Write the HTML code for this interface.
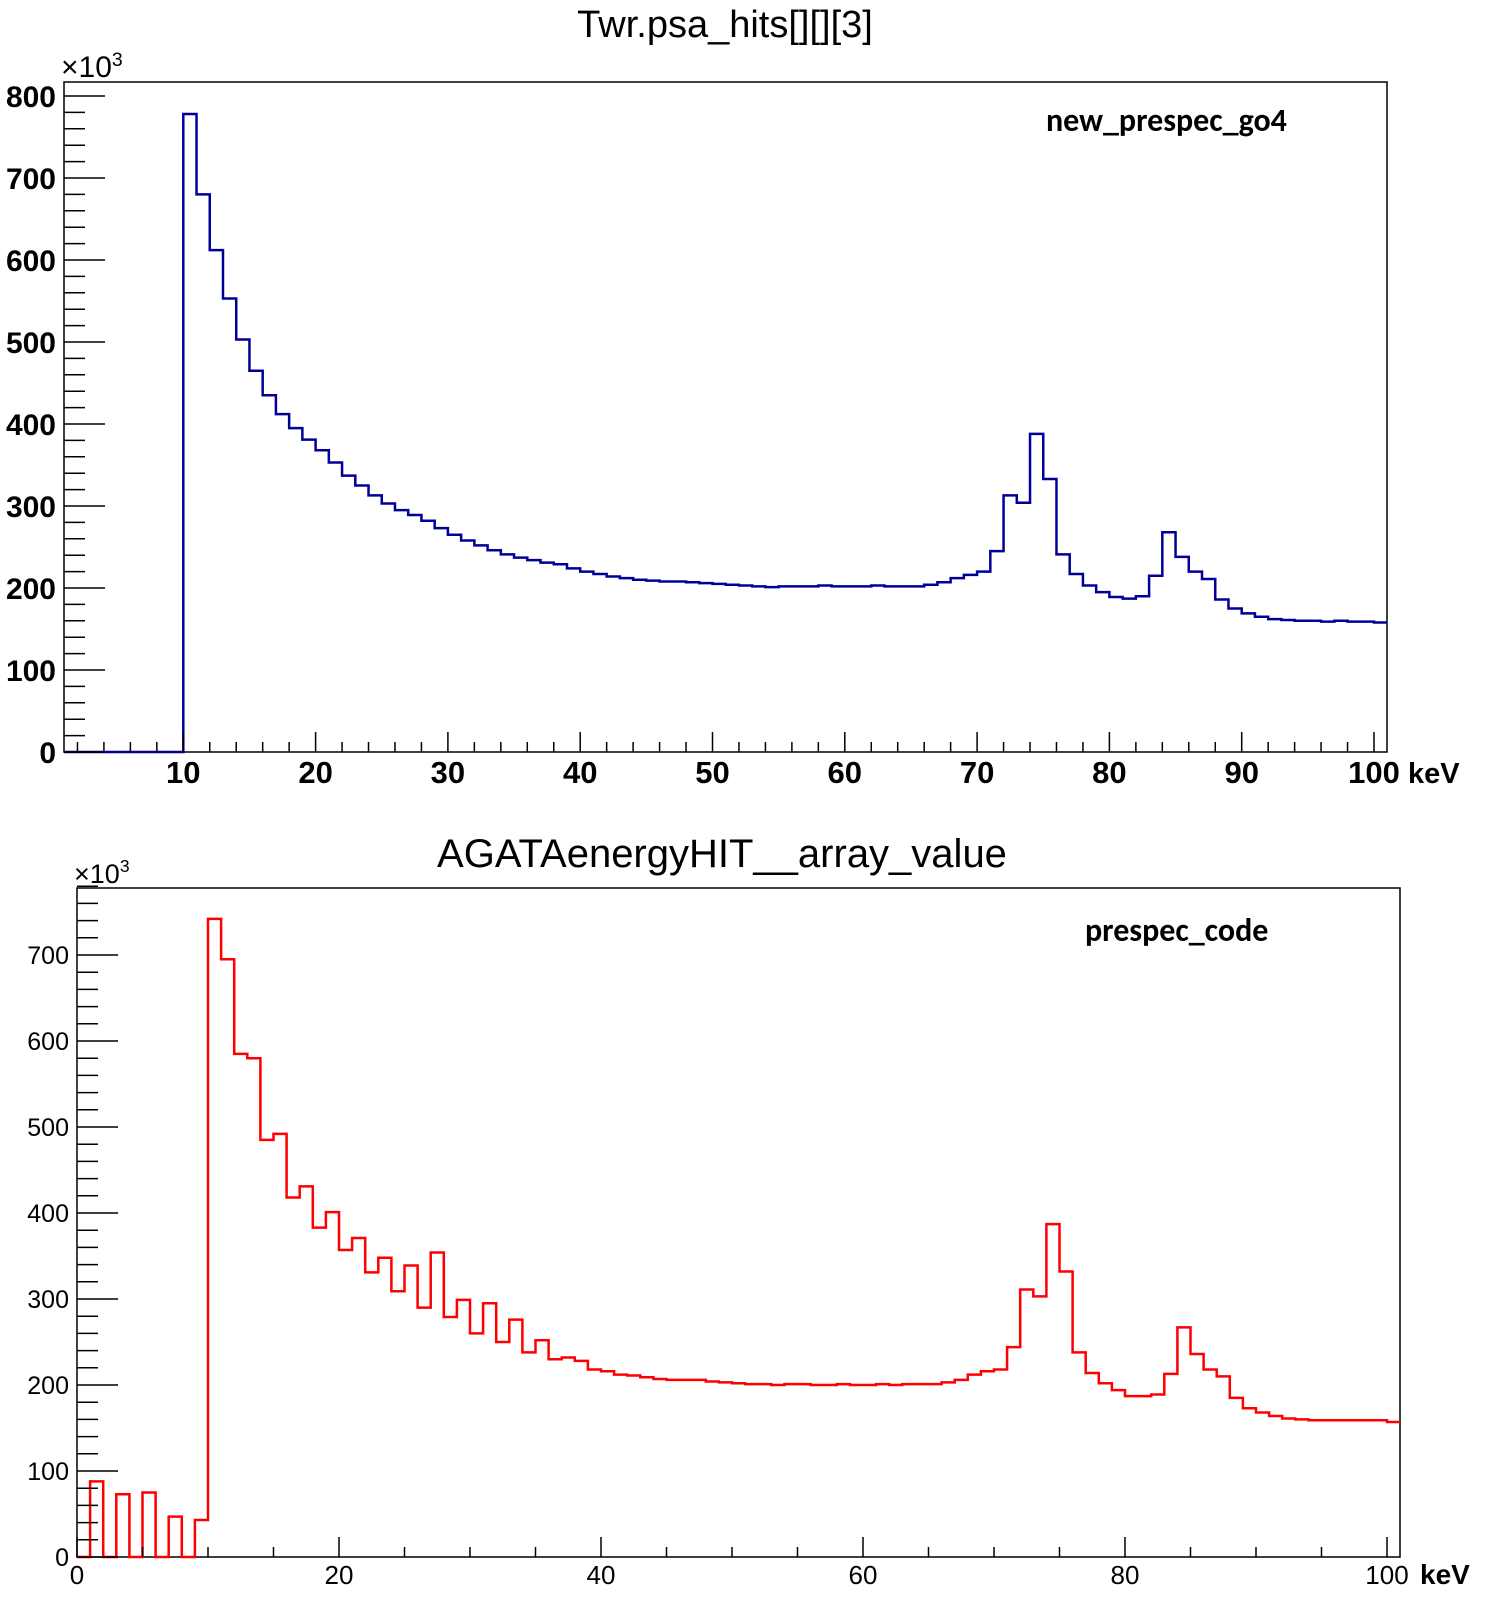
<!DOCTYPE html>
<html><head><meta charset="utf-8"><style>body{margin:0;background:#fff}svg{display:block}</style></head>
<body>
<svg id="s" width="1494" height="1604" xmlns="http://www.w3.org/2000/svg" font-family="Liberation Sans, Arial, sans-serif"></svg>
<script>
(function(){
const S=document.getElementById('s');let h='';
const topD=[0,0,0,0,0,0,0,0,0,0,778,680,612,553,503,465,435,412,395,381,368,353,337,325,313,303,295,289,282,273,265,258,252,246,241,237,234,231,229,224,220,217,214,212,210,209,208,208,207,206,205,204,203,202,201,202,202,202,203,202,202,202,203,202,202,202,204,207,212,216,220,245,313,304,388,333,241,217,203,195,189,187,190,215,268,238,220,211,186,175,169,165,162,161,160,160,159,160,159,159,158];
const botD=[0,88,0,73,0,75,0,47,0,43,742,695,585,580,485,492,418,431,383,401,357,371,331,348,309,339,290,354,279,299,260,295,250,276,238,252,230,232,228,218,216,212,211,209,207,206,206,206,204,203,202,201,201,200,201,201,200,200,201,200,200,201,200,201,201,201,203,206,212,216,218,244,311,303,387,332,238,214,202,194,187,187,189,213,267,236,218,210,185,173,168,164,161,160,159,159,159,159,159,159,157];
function panel(o){
 const X=v=>o.x0+v*o.sx, Y=v=>o.y0-v*o.sy;
 h+=`<rect x="${o.L}" y="${o.T}" width="${o.R-o.L}" height="${o.y0-o.T}" fill="none" stroke="#000" stroke-width="1.5"/>`;
 let d=`M${o.L},${o.y0}`;
 for(let i=0;i<=100;i++){const v=o.data[i]||0;const x1=Math.max(X(i),o.L),x2=Math.min(X(i+1),o.R);d+=` L${x1},${Y(v)} L${x2},${Y(v)}`;}
 h+=`<path d="${d}" fill="none" stroke="${o.col}" stroke-width="2.5"/>`;
 for(let v=0;v<=o.ymax;v+=20){const y=Y(v);const maj=v%100==0;h+=`<line x1="${o.L}" x2="${o.L+(maj?41:21)}" y1="${y}" y2="${y}" stroke="#000" stroke-width="1.5"/>`;
  if(maj)h+=`<text x="${o.L-8}" y="${y+o.yfs*0.36}" text-anchor="end" font-size="${o.yfs}" font-weight="${o.fw}">${v}</text>`;}
 for(let v=o.xminT;v<=100;v+=o.minor){const x=X(v);if(x<o.L)continue;const maj=v%o.major==0;h+=`<line x1="${x}" x2="${x}" y1="${o.y0}" y2="${o.y0-(maj?20:10)}" stroke="#000" stroke-width="1.5"/>`;
  if(maj)h+=`<text x="${x}" y="${o.xlb}" text-anchor="middle" font-size="${o.xfs}" font-weight="${o.fw}">${v}</text>`;}
 h+=`<text x="${o.kx}" y="${o.xlb}" font-size="${o.kfs}" font-weight="bold">keV</text>`;
 h+=`<text x="${o.L-3}" y="${o.T-5}" font-size="${o.mfs}">×10<tspan dy="-11" font-size="${o.mfs*0.65}">3</tspan></text>`;
 h+=`<text x="${o.tx}" y="${o.ty}" text-anchor="middle" font-size="${o.tfs}">${o.title}</text>`;
 h+=`<text x="${o.lx}" y="${o.ly}" font-size="32" font-weight="bold" font-family="Carlito, Liberation Sans, sans-serif">${o.leg}</text>`;
}
panel({L:64,R:1387,T:82,y0:752,x0:51,sx:13.23,sy:0.82,data:topD,col:'#000099',ymax:800,yfs:30,fw:'bold',xminT:2,minor:2,major:10,xfs:31,xlb:783,kx:1408,kfs:29,mfs:30,tfs:38,title:'Twr.psa_hits[][][3]',tx:725,ty:37,leg:'new_prespec_go4',lx:1046,ly:131});
panel({L:77,R:1400,T:888,y0:1557,x0:77,sx:13.1,sy:0.86,data:botD,col:'#ff0000',ymax:780,yfs:25,fw:'normal',xminT:0,minor:5,major:20,xfs:26,xlb:1584,kx:1420,kfs:28,mfs:27,tfs:40,title:'AGATAenergyHIT__array_value',tx:722,ty:867,leg:'prespec_code',lx:1085,ly:941});
S.innerHTML=h;
})();
</script>
</body></html>
